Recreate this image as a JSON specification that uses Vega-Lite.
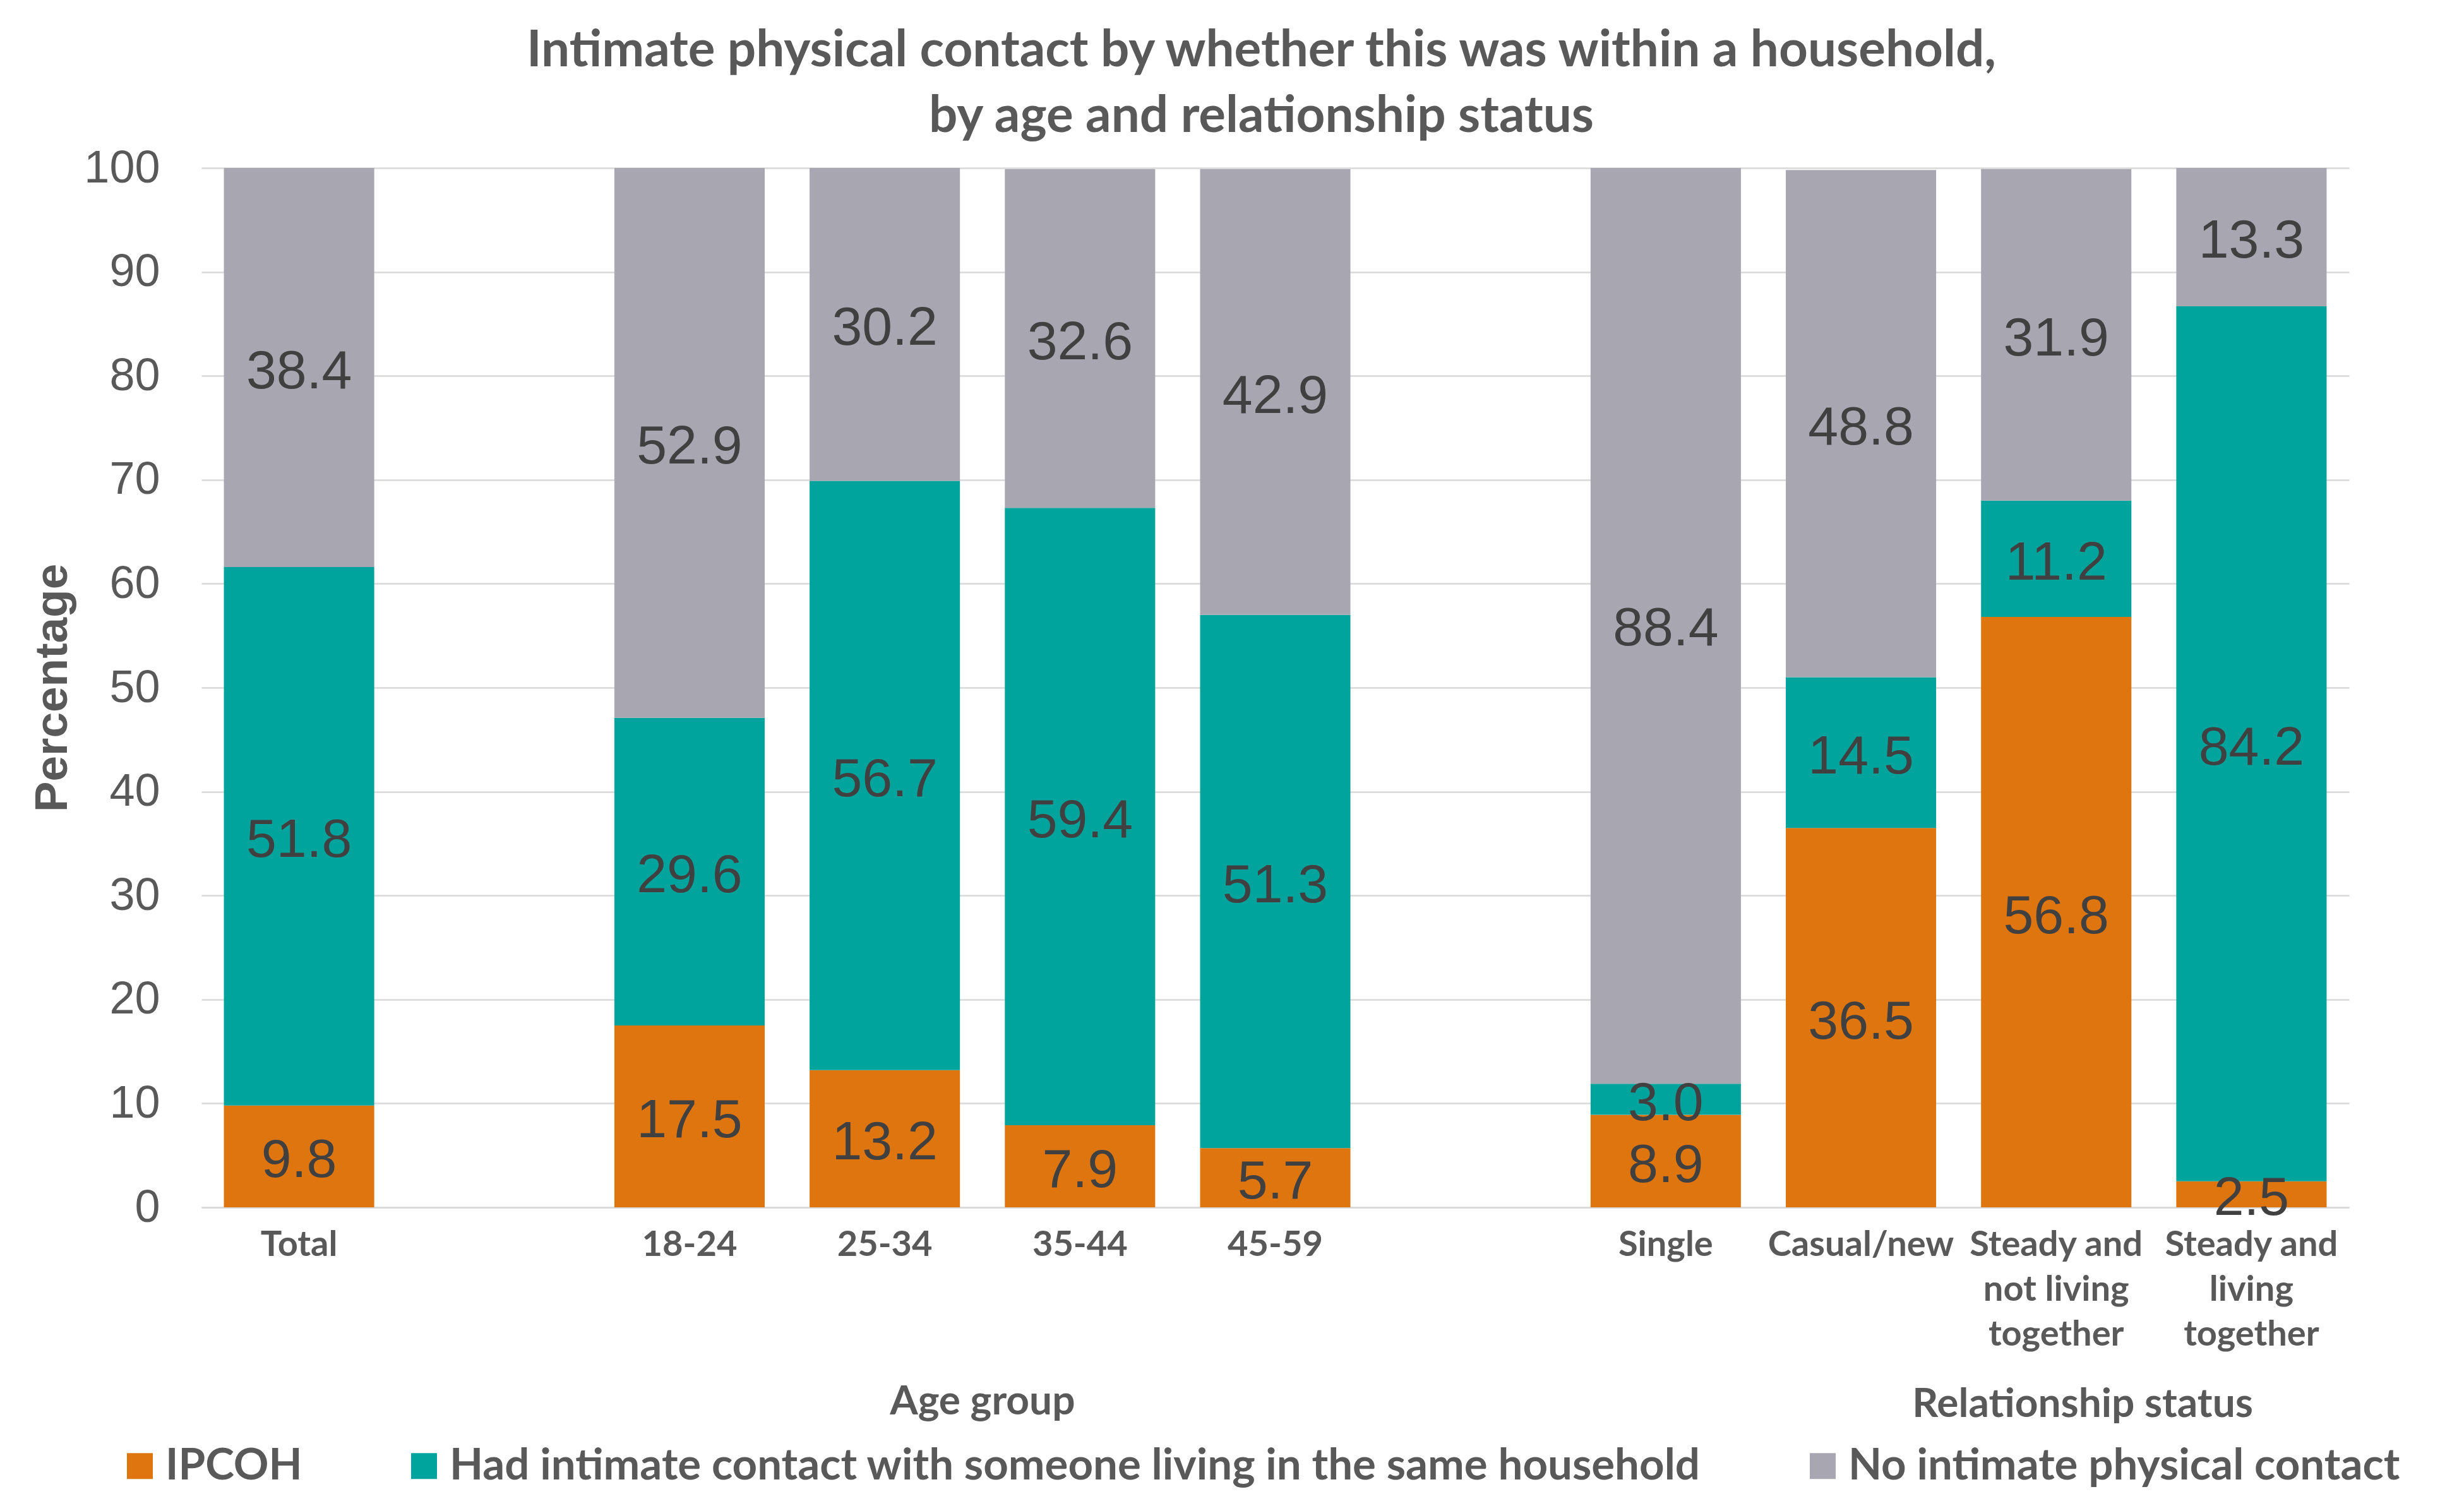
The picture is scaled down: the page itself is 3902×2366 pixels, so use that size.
{
  "$schema": "https://vega.github.io/schema/vega-lite/v6.json",
  "width": 3401,
  "height": 1646,
  "autosize": {"type": "none"},
  "padding": {"left": 319, "top": 266, "right": 182, "bottom": 454},
  "background": "#ffffff",
  "title": {
    "text": ["Intimate physical contact by whether this was within a household,", "by age and relationship status"],
    "font": "Lato",
    "fontWeight": "bold",
    "fontSize": 80,
    "color": "#595959",
    "lineHeight": 104,
    "anchor": "middle",
    "frame": "group",
    "offset": 4,
    "dx": -22
  },
  "data": {
    "values": [
      {"cat": "Total", "series": "IPCOH", "k": 1, "value": 9.8},
      {"cat": "Total", "series": "Had intimate contact with someone living in the same household", "k": 2, "value": 51.8},
      {"cat": "Total", "series": "No intimate physical contact", "k": 3, "value": 38.4},
      {"cat": "18-24", "series": "IPCOH", "k": 1, "value": 17.5},
      {"cat": "18-24", "series": "Had intimate contact with someone living in the same household", "k": 2, "value": 29.6},
      {"cat": "18-24", "series": "No intimate physical contact", "k": 3, "value": 52.9},
      {"cat": "25-34", "series": "IPCOH", "k": 1, "value": 13.2},
      {"cat": "25-34", "series": "Had intimate contact with someone living in the same household", "k": 2, "value": 56.7},
      {"cat": "25-34", "series": "No intimate physical contact", "k": 3, "value": 30.2},
      {"cat": "35-44", "series": "IPCOH", "k": 1, "value": 7.9},
      {"cat": "35-44", "series": "Had intimate contact with someone living in the same household", "k": 2, "value": 59.4},
      {"cat": "35-44", "series": "No intimate physical contact", "k": 3, "value": 32.6},
      {"cat": "45-59", "series": "IPCOH", "k": 1, "value": 5.7},
      {"cat": "45-59", "series": "Had intimate contact with someone living in the same household", "k": 2, "value": 51.3},
      {"cat": "45-59", "series": "No intimate physical contact", "k": 3, "value": 42.9},
      {"cat": "Single", "series": "IPCOH", "k": 1, "value": 8.9},
      {"cat": "Single", "series": "Had intimate contact with someone living in the same household", "k": 2, "value": 3.0},
      {"cat": "Single", "series": "No intimate physical contact", "k": 3, "value": 88.4},
      {"cat": "Casual/new", "series": "IPCOH", "k": 1, "value": 36.5},
      {"cat": "Casual/new", "series": "Had intimate contact with someone living in the same household", "k": 2, "value": 14.5},
      {"cat": "Casual/new", "series": "No intimate physical contact", "k": 3, "value": 48.8},
      {"cat": "Steady and not living together", "series": "IPCOH", "k": 1, "value": 56.8},
      {"cat": "Steady and not living together", "series": "Had intimate contact with someone living in the same household", "k": 2, "value": 11.2},
      {"cat": "Steady and not living together", "series": "No intimate physical contact", "k": 3, "value": 31.9},
      {"cat": "Steady and living together", "series": "IPCOH", "k": 1, "value": 2.5},
      {"cat": "Steady and living together", "series": "Had intimate contact with someone living in the same household", "k": 2, "value": 84.2},
      {"cat": "Steady and living together", "series": "No intimate physical contact", "k": 3, "value": 13.3}
    ]
  },
  "transform": [
    {"stack": "value", "groupby": ["cat"], "sort": [{"field": "k", "order": "ascending"}], "as": ["v0", "v1"]},
    {"calculate": "(datum.v0 + datum.v1) / 2", "as": "mid"}
  ],
  "layer": [
    {
      "mark": {"type": "bar", "strokeWidth": 0},
      "encoding": {
        "x": {
          "field": "cat",
          "type": "nominal",
          "title": null,
          "sort": null,
          "scale": {
            "domain": ["Total", " ", "18-24", "25-34", "35-44", "45-59", "  ", "Single", "Casual/new", "Steady and not living together", "Steady and living together"],
            "paddingInner": 0.23,
            "paddingOuter": 0.115
          },
          "axis": {
            "labelAngle": 0,
            "labelExpr": "datum.value == 'Steady and not living together' ? ['Steady and', 'not living', 'together'] : datum.value == 'Steady and living together' ? ['Steady and', 'living', 'together'] : datum.label"
          }
        },
        "y": {
          "field": "v0",
          "type": "quantitative",
          "title": "Percentage",
          "scale": {"domain": [0, 100], "clamp": true, "nice": false},
          "axis": {"values": [0, 10, 20, 30, 40, 50, 60, 70, 80, 90, 100]}
        },
        "y2": {"field": "v1"},
        "color": {
          "field": "series",
          "type": "nominal",
          "sort": null,
          "scale": {
            "domain": ["IPCOH", "Had intimate contact with someone living in the same household", "No intimate physical contact"],
            "range": ["#DF750F", "#00A49D", "#A8A7B1"]
          },
          "legend": {
            "title": null,
            "orient": "none",
            "legendX": -132,
            "legendY": 2021,
            "direction": "horizontal",
            "symbolType": "square",
            "symbolSize": 1681,
            "symbolStrokeWidth": 0,
            "symbolOpacity": 1,
            "labelFont": "Lato",
            "labelFontWeight": "bold",
            "labelFontSize": 69,
            "labelColor": "#595959",
            "labelLimit": 4000,
            "labelOffset": 6,
            "columnPadding": 158
          }
        }
      }
    },
    {
      "mark": {"type": "text", "font": "Liberation Sans", "fontSize": 86, "color": "#404040", "align": "center", "baseline": "middle", "dy": 7},
      "encoding": {
        "x": {"field": "cat", "type": "nominal", "sort": null},
        "y": {"field": "mid", "type": "quantitative"},
        "text": {"field": "value", "type": "quantitative", "format": ".1f"}
      }
    },
    {
      "data": {"values": [{"label": "Age group", "at": "25-34"}]},
      "transform": [],
      "mark": {"type": "text", "font": "Lato", "fontWeight": "bold", "fontSize": 64, "color": "#595959", "align": "center", "baseline": "alphabetic", "dy": 328},
      "encoding": {
        "x": {"field": "at", "type": "nominal", "bandPosition": 1.15},
        "y": {"datum": 0, "type": "quantitative"},
        "text": {"field": "label"}
      }
    },
    {
      "data": {"values": [{"label": "Relationship status", "at": "Steady and not living together"}]},
      "transform": [],
      "mark": {"type": "text", "font": "Lato", "fontWeight": "bold", "fontSize": 64, "color": "#595959", "align": "center", "baseline": "alphabetic", "dy": 332},
      "encoding": {
        "x": {"field": "at", "type": "nominal", "bandPosition": 0.676},
        "y": {"datum": 0, "type": "quantitative"},
        "text": {"field": "label"}
      }
    }
  ],
  "config": {
    "view": {"stroke": null},
    "axisX": {
      "domain": true,
      "domainColor": "#D9D9D9",
      "domainWidth": 2.5,
      "ticks": false,
      "grid": false,
      "labelFont": "Lato",
      "labelFontWeight": "bold",
      "labelFontSize": 56,
      "labelColor": "#595959",
      "labelPadding": 32,
      "labelLineHeight": 71,
      "labelLimit": 1000,
      "labelBaseline": "top"
    },
    "axisY": {
      "domain": false,
      "ticks": false,
      "grid": true,
      "gridColor": "#D9D9D9",
      "gridWidth": 2.5,
      "labelFont": "Liberation Sans",
      "labelFontSize": 72,
      "labelColor": "#595959",
      "labelPadding": 66,
      "titleFont": "Liberation Sans",
      "titleFontWeight": "bold",
      "titleFontSize": 73,
      "titleColor": "#595959",
      "titlePadding": 12
    }
  }
}
